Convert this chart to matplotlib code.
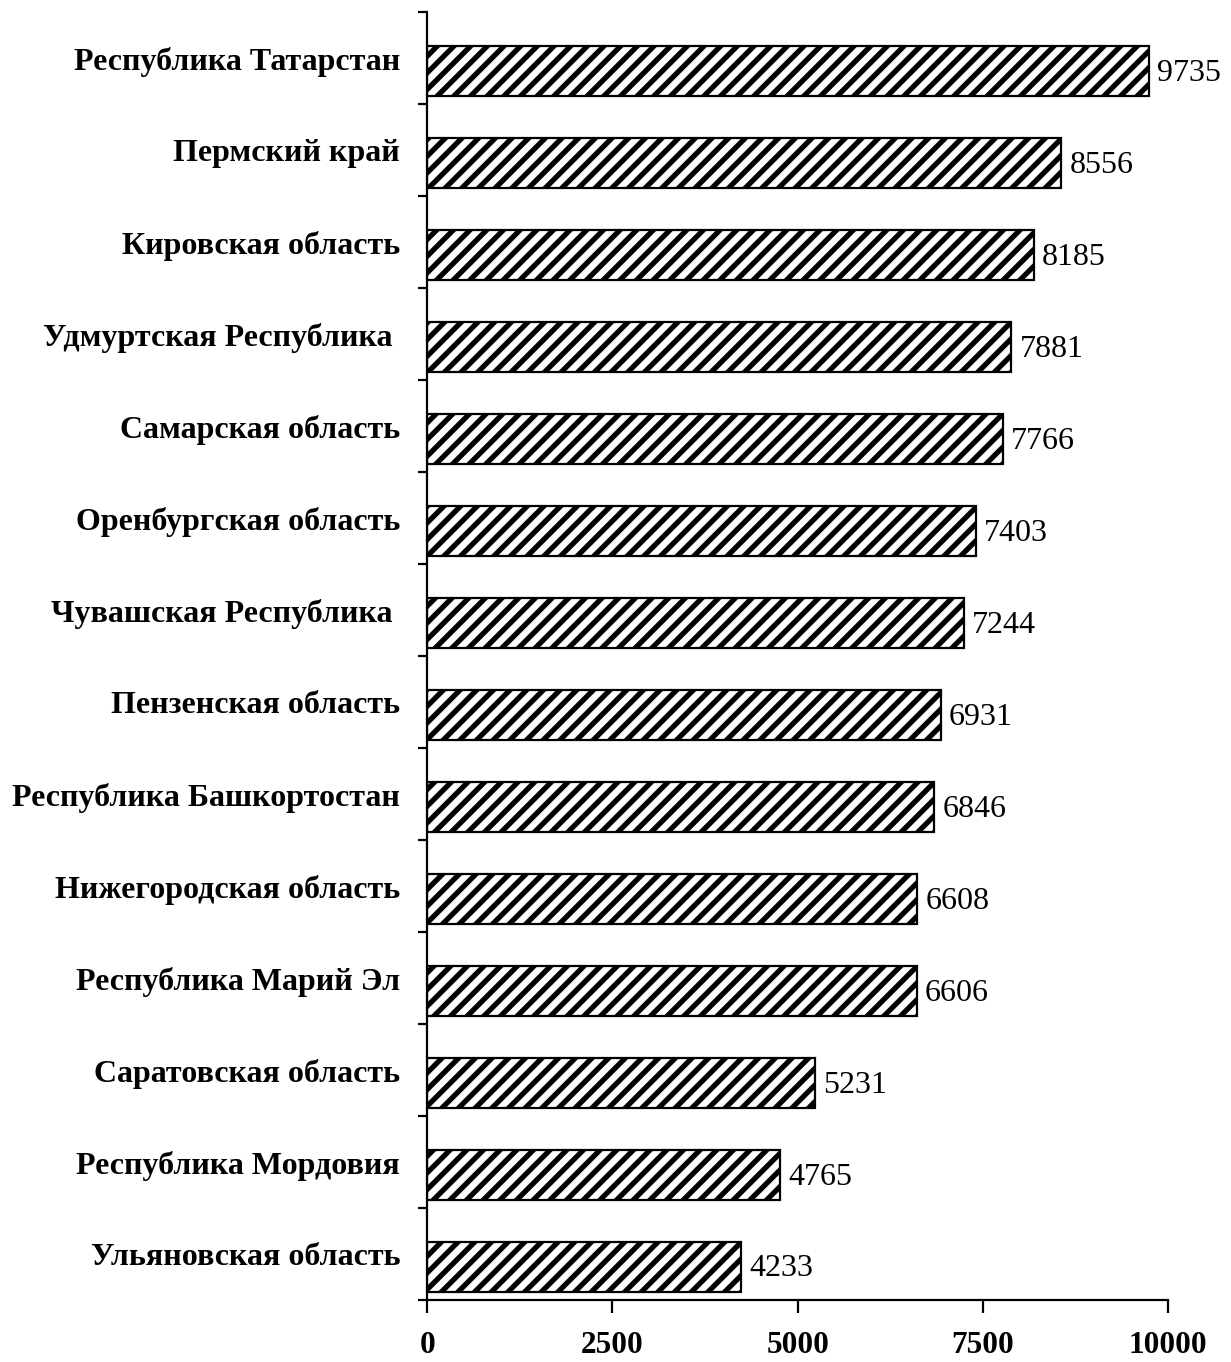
import matplotlib
matplotlib.use("Agg")
import matplotlib.pyplot as plt
import matplotlib.transforms as mtransforms

regions = [
    "Ульяновская область",
    "Республика Мордовия",
    "Саратовская область",
    "Республика Марий Эл",
    "Нижегородская область",
    "Республика Башкортостан",
    "Пензенская область",
    "Чувашская Республика ",
    "Оренбургская область",
    "Самарская область",
    "Удмуртская Республика ",
    "Кировская область",
    "Пермский край",
    "Республика Татарстан",
]
values = [4233, 4765, 5231, 6606, 6608, 6846, 6931, 7244, 7403, 7766, 7881, 8185, 8556, 9735]
x_ticks = [0, 2500, 5000, 7500, 10000]

plt.rcParams["font.family"] = ["Liberation Serif", "DejaVu Serif"]
plt.rcParams["hatch.linewidth"] = 3.8
plt.rcParams["hatch.color"] = "black"

fig = plt.figure(figsize=(12.31, 13.62), dpi=100)
ax = fig.add_axes([0.347, 0.0455, 0.602, 0.9455])

# bars sit a little below the middle of each category slot
bar_shift = -0.14
y = list(range(len(regions)))
bar_y = [yi + bar_shift for yi in y]
ax.barh(bar_y, values, height=0.55, color="white", edgecolor="black",
        linewidth=1.6, hatch="//")

ax.set_xlim(0, 10000)
ax.set_ylim(-0.5, len(regions) - 0.5)

# value labels to the right of each bar
for by, v in zip(bar_y, values):
    ax.annotate(f"{v}", xy=(v, by), xytext=(6, -1.5), textcoords="offset points",
                ha="left", va="center", fontsize=23)

# category labels, right-aligned left of the axis
label_tf = ax.get_yaxis_transform() + mtransforms.ScaledTranslation(
    -0.27, 0.0, fig.dpi_scale_trans)
for yi, name in zip(y, regions):
    ax.text(0, yi, name, transform=label_tf, ha="right", va="center_baseline",
            fontsize=23, fontweight="bold")
ax.set_yticks([])

# boundary ticks between categories on the y axis
for b in [i - 0.5 for i in range(len(regions) + 1)]:
    ax.plot([-0.013, 0], [b, b], transform=ax.get_yaxis_transform(),
            color="black", lw=1.6, clip_on=False, solid_capstyle="butt")

ax.set_xticks(x_ticks)
ax.set_xticklabels([str(t) for t in x_ticks], fontsize=22.5, fontweight="bold")
ax.tick_params(axis="x", length=9, width=1.6, pad=13, direction="out")

for side in ("top", "right"):
    ax.spines[side].set_visible(False)
for side in ("left", "bottom"):
    ax.spines[side].set_linewidth(1.6)

fig.savefig("out.png", dpi=100)
